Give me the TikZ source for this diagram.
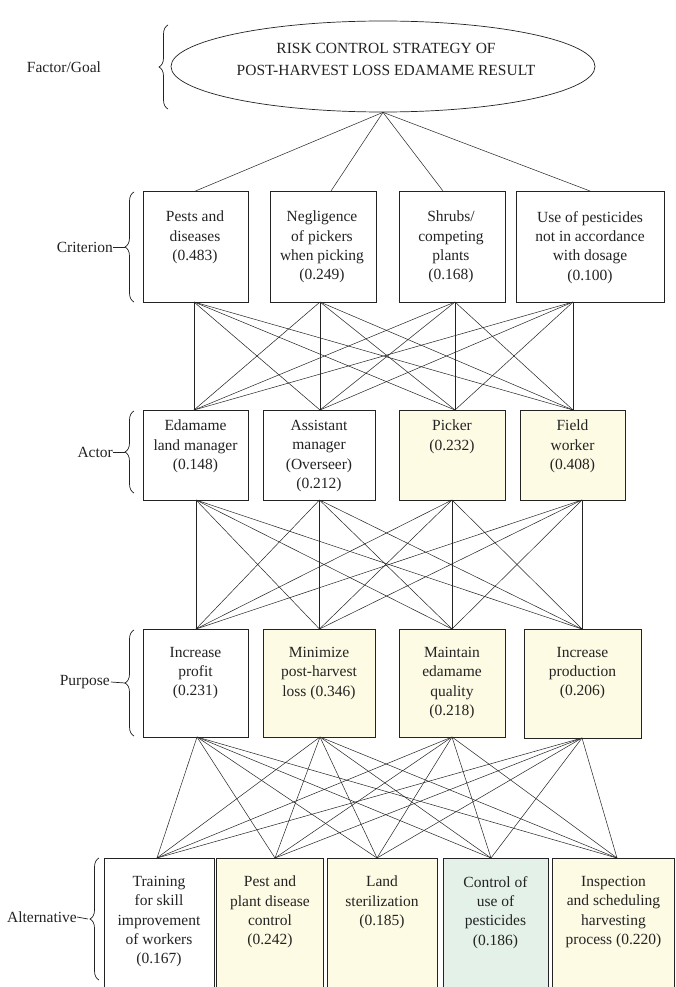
\documentclass[tikz,border=0pt]{standalone}
\usepackage{fontspec}
\setmainfont{Liberation Serif}
\usetikzlibrary{decorations.pathreplacing,shapes.geometric,calc}
\definecolor{ink}{RGB}{35,35,35}
\definecolor{wmyel}{RGB}{253,251,228}
\definecolor{wmgrn}{RGB}{228,241,232}
\begin{document}
\begin{tikzpicture}[x=1pt,y=-1pt,
  box/.style={draw=ink, line width=0.7pt, inner sep=0pt, outer sep=0pt},
  txt/.style={font=\fontsize{15.5}{19.3}\selectfont, align=center, inner sep=0pt, anchor=north, text=ink},
  lbl/.style={font=\fontsize{15.5}{19}\selectfont, inner sep=0pt, text=ink},
  link/.style={draw=ink, line width=0.5pt},
  brc/.style={draw=ink, line width=0.7pt, decorate, decoration={brace, amplitude=9pt}},
]
\path[use as bounding box, clip] (0,0) rectangle (675,987);
\fill[white] (0,0) rectangle (675,987);

% goal
\node[draw=ink, line width=0.7pt, ellipse, minimum width=424pt, minimum height=91pt, inner sep=0pt] (goal) at (383,66.5) {};
\node[txt, font=\fontsize{15.5}{22}\selectfont] (goalt) at (386,43) {RISK CONTROL STRATEGY OF\\POST-HARVEST LOSS EDAMAME RESULT};

% criterion
\node[box, minimum width=105pt, minimum height=111pt] (c1) at (195.5,246.5) {};
\node[box, minimum width=106pt, minimum height=111pt] (c2) at (323,246.5) {};
\node[box, minimum width=106pt, minimum height=111pt] (c3) at (452,246.5) {};
\node[box, minimum width=148pt, minimum height=111pt] (c4) at (590,246.5) {};
\node[txt] (c1t) at (195,211) {Pests and\\diseases\\(0.483)};
\node[txt] (c2t) at (322,211) {Negligence\\of pickers\\when picking\\(0.249)};
\node[txt] (c3t) at (451,211) {Shrubs/\\competing\\plants\\(0.168)};
\node[txt] (c4t) at (590,211) {Use of pesticides\\not in accordance\\with dosage\\(0.100)};

% actor
\node[box, minimum width=105pt, minimum height=90pt] (a1) at (195.5,455) {};
\node[box, minimum width=112pt, minimum height=90pt] (a2) at (319,455) {};
\node[box, fill=wmyel, minimum width=106pt, minimum height=90pt] (a3) at (452,455) {};
\node[box, fill=wmyel, minimum width=105pt, minimum height=90pt] (a4) at (572.5,455) {};
\node[txt] (a1t) at (195.5,420) {Edamame\\land manager\\(0.148)};
\node[txt] (a2t) at (319,420) {Assistant\\manager\\(Overseer)\\(0.212)};
\node[txt] (a3t) at (452,420) {Picker\\(0.232)};
\node[txt] (a4t) at (572.5,420) {Field\\worker\\(0.408)};

% purpose
\node[box, minimum width=105pt, minimum height=108pt] (p1) at (195.5,683) {};
\node[box, fill=wmyel, minimum width=112pt, minimum height=108pt] (p2) at (319,683) {};
\node[box, fill=wmyel, minimum width=106pt, minimum height=108pt] (p3) at (452,683) {};
\node[box, fill=wmyel, minimum width=117pt, minimum height=109pt] (p4) at (582.5,683.5) {};
\node[txt] (p1t) at (195.5,647) {Increase\\profit\\(0.231)};
\node[txt] (p2t) at (319,647) {Minimize\\post-harvest\\loss (0.346)};
\node[txt] (p3t) at (452,647) {Maintain\\edamame\\quality\\(0.218)};
\node[txt] (p4t) at (582.5,647) {Increase\\production\\(0.206)};

% alternative
\node[box, minimum width=110pt, minimum height=142pt] (t1) at (159,929) {};
\node[box, fill=wmyel, minimum width=107pt, minimum height=142pt] (t2) at (270,929) {};
\node[box, fill=wmyel, minimum width=110pt, minimum height=142pt] (t3) at (382,929) {};
\node[box, fill=wmgrn, minimum width=105pt, minimum height=142pt] (t4) at (495.5,929) {};
\node[box, fill=wmyel, minimum width=122pt, minimum height=142pt] (t5) at (613.5,929) {};
\node[txt] (t1t) at (159,876) {Training\\for skill\\improvement\\of workers\\(0.167)};
\node[txt] (t2t) at (270,876) {Pest and\\plant disease\\control\\(0.242)};
\node[txt] (t3t) at (382,876) {Land\\sterilization\\(0.185)};
\node[txt] (t4t) at (495.5,876) {Control of\\use of\\pesticides\\(0.186)};
\node[txt] (t5t) at (613.5,876) {Inspection\\and scheduling\\harvesting\\process (0.220)};

% connection points
\coordinate (c1n) at ([xshift=0pt]c1.north);
\coordinate (c2n) at ([xshift=8pt]c2.north);
\coordinate (c3n) at ([xshift=-9pt]c3.north);
\coordinate (c4n) at ([xshift=0pt]c4.north);
\coordinate (c1s) at ([xshift=-1.5pt]c1.south);
\coordinate (c2s) at ([xshift=-3pt]c2.south);
\coordinate (c3s) at ([xshift=3pt]c3.south);
\coordinate (c4s) at ([xshift=-17pt]c4.south);
\coordinate (a1n) at ([xshift=-1.5pt]a1.north);
\coordinate (a2n) at ([xshift=1pt]a2.north);
\coordinate (a3n) at ([xshift=3pt]a3.north);
\coordinate (a4n) at ([xshift=0.5pt]a4.north);
\coordinate (a1s) at ([xshift=0.5pt]a1.south);
\coordinate (a2s) at ([xshift=0.5pt]a2.south);
\coordinate (a3s) at ([xshift=0pt]a3.south);
\coordinate (a4s) at ([xshift=9.5pt]a4.south);
\coordinate (p1n) at ([xshift=0.5pt]p1.north);
\coordinate (p2n) at ([xshift=0.5pt]p2.north);
\coordinate (p3n) at ([xshift=0pt]p3.north);
\coordinate (p4n) at ([xshift=-0.5pt]p4.north);
\coordinate (p1s) at ([xshift=1.5pt]p1.south);
\coordinate (p2s) at ([xshift=1pt]p2.south);
\coordinate (p3s) at ([xshift=0pt]p3.south);
\coordinate (p4s) at ([xshift=-0.5pt]p4.south);
\coordinate (t1n) at ([xshift=-2pt]t1.north);
\coordinate (t2n) at ([xshift=5pt]t2.north);
\coordinate (t3n) at ([xshift=-5pt]t3.north);
\coordinate (t4n) at ([xshift=-4.5pt]t4.north);
\coordinate (t5n) at ([xshift=3.5pt]t5.north);

% links
\foreach \i in {1,...,4} \draw[link] (goal.south) -- (c\i n);
\foreach \i in {1,...,4} \foreach \j in {1,...,4} \draw[link] (c\i s) -- (a\j n);
\foreach \i in {1,...,4} \foreach \j in {1,...,4} \draw[link] (a\i s) -- (p\j n);
\foreach \i in {1,...,4} \foreach \j in {1,...,5} \draw[link] (p\i s) -- (t\j n);

% side labels and braces
\draw[brc] (168,109) -- (168,25);
\node[lbl] (lf) at (64,67) {Factor/Goal};

\draw[brc] (134,302) -- (134,192);
\node[lbl, anchor=east] (lc) at (113,247) {Criterion};
\coordinate (bc) at (125,247);
\draw[ink, line width=0.7pt] (lc.east) -- (bc);

\draw[brc] (134,493) -- (134,411);
\node[lbl, anchor=east] (la) at (113,452) {Actor};
\coordinate (ba) at (125,452);
\draw[ink, line width=0.7pt] (la.east) -- (ba);

\draw[brc] (134,736) -- (134,630);
\node[lbl, anchor=east] (lp) at (110,682) {Purpose};
\coordinate (bp) at (125,683);
\draw[ink, line width=0.7pt] ([xshift=1pt]lp.east) -- (bp);

\draw[brc] (99,980) -- (99,858);
\node[lbl, anchor=east] (lt) at (77,917) {Alternative};
\coordinate (bt) at (88,919);
\draw[ink, line width=0.7pt] (lt.east) -- (bt);
\end{tikzpicture}
\end{document}
